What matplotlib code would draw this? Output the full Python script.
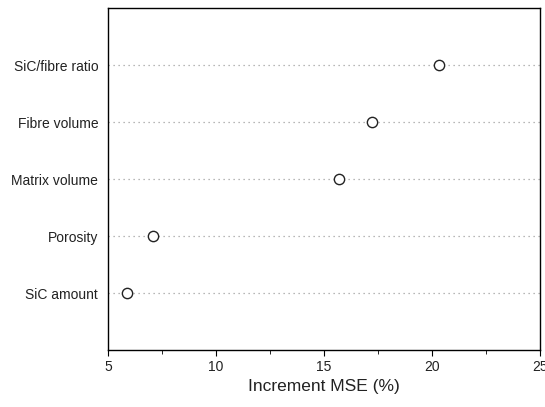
import matplotlib
matplotlib.use("Agg")
import matplotlib.pyplot as plt
from matplotlib.ticker import MultipleLocator

plt.rcParams['font.family'] = ['Liberation Sans', 'DejaVu Sans']

# data, bottom to top
variables = ["SiC amount", "Porosity", "Matrix volume", "Fibre volume", "SiC/fibre ratio"]
increment_mse = [5.9, 7.1, 15.7, 17.2, 20.3]

fig = plt.figure(figsize=(5.45, 4.07), dpi=100)
ax = fig.add_axes([0.198, 0.14, 0.793, 0.84])

ypos = list(range(1, len(variables) + 1))
for y in ypos:
    ax.axhline(y, color="#a0a0a0", linestyle=(0, (1, 3)), linewidth=0.9, zorder=1)
ax.scatter(increment_mse, ypos, s=55, facecolors="white", edgecolors="#222222",
           linewidths=1.0, zorder=3)

ax.set_xlim(5, 25)
ax.set_ylim(0, 6)
ax.set_yticks(ypos)
ax.set_yticklabels(variables, color="#222222")
ax.tick_params(axis="y", length=0, labelsize=10, pad=7)
ax.xaxis.set_major_locator(MultipleLocator(5))
ax.xaxis.set_minor_locator(MultipleLocator(2.5))
ax.tick_params(axis="x", which="major", length=4, labelsize=10, direction="out",
               labelcolor="#222222")
ax.tick_params(axis="x", which="minor", length=3, direction="out")
ax.set_xlabel("Increment MSE (%)", fontsize=12.5, color="#222222", labelpad=3)

for sp in ax.spines.values():
    sp.set_linewidth(1.0)

fig.savefig("out.png", dpi=100)
